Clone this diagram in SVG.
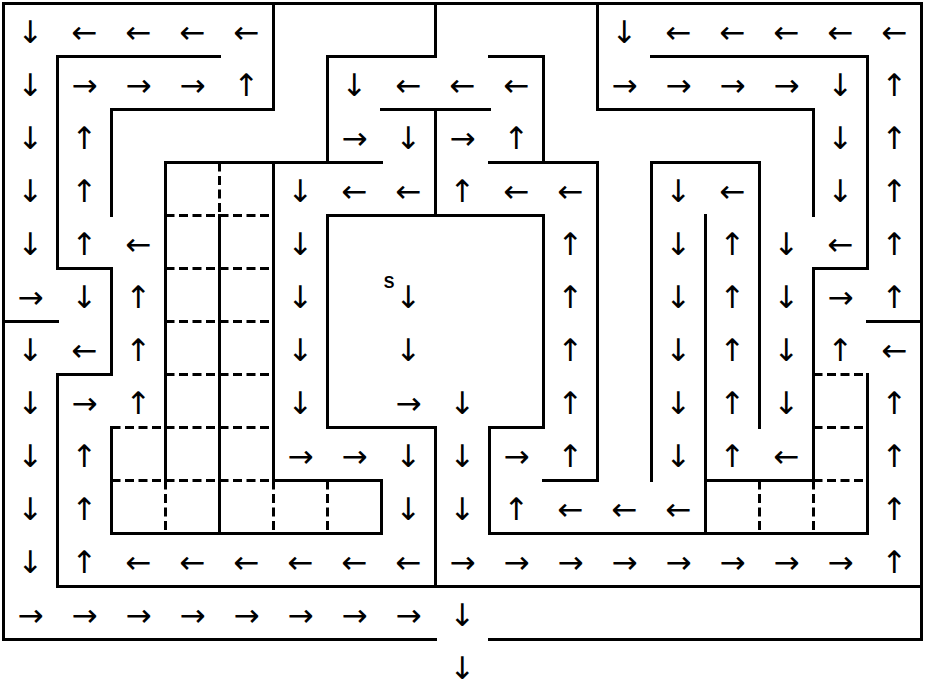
<svg xmlns="http://www.w3.org/2000/svg" width="925" height="690" viewBox="0 0 925 690">
<style>
.w{fill:none;stroke:#000;stroke-width:3;stroke-linecap:square;stroke-linejoin:miter}
.d{fill:none;stroke:#000;stroke-width:3;stroke-dasharray:9 4.5}
.a{font-family:"DejaVu Sans",sans-serif;font-size:31px;text-anchor:middle;dominant-baseline:central;fill:#000}
.s{font-family:"Liberation Sans",sans-serif;font-size:16px;font-weight:bold;text-anchor:middle;fill:#000}
</style>
<rect width="925" height="690" fill="#fff"/>
<g id="walls">
<path class="w" d="M435.5,639.5H3.5V3.5H921.5V639.5H489.5"/>
<path class="w" d="M219.5,56.5H57.5V268.5H111.5V374.5H57.5V586.5H921.5"/>
<path class="w" d="M273.5,3.5V109.5H111.5V215.5"/>
<path class="w" d="M3.5,321.5H57.5"/>
<path class="w" d="M165.5,480.5V162.5H381.5"/>
<path class="w" d="M219.5,215.5V533.5"/>
<path class="w" d="M273.5,162.5V480.5H381.5V533.5H111.5V427.5"/>
<path class="w" d="M435.5,3.5V56.5H327.5V162.5"/>
<path class="w" d="M381.5,109.5H489.5M435.5,109.5V215.5"/>
<path class="w" d="M489.5,56.5H543.5V162.5"/>
<path class="w" d="M489.5,162.5H597.5V480.5H543.5"/>
<path class="w" d="M597.5,3.5V109.5H813.5V215.5"/>
<path class="w" d="M651.5,56.5H867.5V268.5H813.5V480.5H705.5"/>
<path class="w" d="M705.5,215.5V533.5"/>
<path class="w" d="M435.5,586.5V427.5H327.5V215.5H543.5V427.5H489.5V533.5H867.5V374.5"/>
<path class="w" d="M651.5,480.5V162.5H759.5V427.5"/>
<path class="w" d="M867.5,321.5H921.5"/>
</g>
<g id="dashed">
<path class="d" d="M219.5,162.5V215.5M165.5,215.5H273.5M165.5,268.5H273.5M165.5,321.5H273.5M165.5,374.5H273.5M111.5,427.5H273.5M111.5,480.5H273.5M165.5,480.5V533.5M273.5,480.5V533.5M327.5,480.5V533.5"/>
<path class="d" d="M759.5,480.5V533.5M813.5,480.5V533.5M813.5,480.5H867.5M813.5,374.5H867.5M813.5,427.5H867.5"/>
</g>
<g id="arrows">
<text class="a" x="30.5" y="31.5">↓</text><text class="a" x="84.5" y="31.5">←</text><text class="a" x="138.5" y="31.5">←</text><text class="a" x="192.5" y="31.5">←</text><text class="a" x="246.5" y="31.5">←</text>
<text class="a" x="624.5" y="31.5">↓</text><text class="a" x="678.5" y="31.5">←</text><text class="a" x="732.5" y="31.5">←</text><text class="a" x="786.5" y="31.5">←</text><text class="a" x="840.5" y="31.5">←</text><text class="a" x="894.5" y="31.5">←</text>

<text class="a" x="30.5" y="84.5">↓</text><text class="a" x="84.5" y="84.5">→</text><text class="a" x="138.5" y="84.5">→</text><text class="a" x="192.5" y="84.5">→</text><text class="a" x="246.5" y="84.5">↑</text>
<text class="a" x="354.5" y="84.5">↓</text><text class="a" x="408.5" y="84.5">←</text><text class="a" x="462.5" y="84.5">←</text><text class="a" x="516.5" y="84.5">←</text>
<text class="a" x="624.5" y="84.5">→</text><text class="a" x="678.5" y="84.5">→</text><text class="a" x="732.5" y="84.5">→</text><text class="a" x="786.5" y="84.5">→</text><text class="a" x="840.5" y="84.5">↓</text><text class="a" x="894.5" y="84.5">↑</text>

<text class="a" x="30.5" y="137.5">↓</text><text class="a" x="84.5" y="137.5">↑</text>
<text class="a" x="354.5" y="137.5">→</text><text class="a" x="408.5" y="137.5">↓</text><text class="a" x="462.5" y="137.5">→</text><text class="a" x="516.5" y="137.5">↑</text>
<text class="a" x="840.5" y="137.5">↓</text><text class="a" x="894.5" y="137.5">↑</text>

<text class="a" x="30.5" y="190.5">↓</text><text class="a" x="84.5" y="190.5">↑</text>
<text class="a" x="300.5" y="190.5">↓</text><text class="a" x="354.5" y="190.5">←</text><text class="a" x="408.5" y="190.5">←</text><text class="a" x="462.5" y="190.5">↑</text><text class="a" x="516.5" y="190.5">←</text><text class="a" x="570.5" y="190.5">←</text>
<text class="a" x="678.5" y="190.5">↓</text><text class="a" x="732.5" y="190.5">←</text><text class="a" x="840.5" y="190.5">↓</text><text class="a" x="894.5" y="190.5">↑</text>

<text class="a" x="30.5" y="243.5">↓</text><text class="a" x="84.5" y="243.5">↑</text><text class="a" x="138.5" y="243.5">←</text>
<text class="a" x="300.5" y="243.5">↓</text><text class="a" x="570.5" y="243.5">↑</text>
<text class="a" x="678.5" y="243.5">↓</text><text class="a" x="732.5" y="243.5">↑</text><text class="a" x="786.5" y="243.5">↓</text><text class="a" x="840.5" y="243.5">←</text><text class="a" x="894.5" y="243.5">↑</text>

<text class="a" x="30.5" y="296.5">→</text><text class="a" x="84.5" y="296.5">↓</text><text class="a" x="138.5" y="296.5">↑</text>
<text class="a" x="300.5" y="296.5">↓</text><text class="a" x="408.5" y="296.5">↓</text><text class="a" x="570.5" y="296.5">↑</text>
<text class="a" x="678.5" y="296.5">↓</text><text class="a" x="732.5" y="296.5">↑</text><text class="a" x="786.5" y="296.5">↓</text><text class="a" x="840.5" y="296.5">→</text><text class="a" x="894.5" y="296.5">↑</text>

<text class="a" x="30.5" y="349.5">↓</text><text class="a" x="84.5" y="349.5">←</text><text class="a" x="138.5" y="349.5">↑</text>
<text class="a" x="300.5" y="349.5">↓</text><text class="a" x="408.5" y="349.5">↓</text><text class="a" x="570.5" y="349.5">↑</text>
<text class="a" x="678.5" y="349.5">↓</text><text class="a" x="732.5" y="349.5">↑</text><text class="a" x="786.5" y="349.5">↓</text><text class="a" x="840.5" y="349.5">↑</text><text class="a" x="894.5" y="349.5">←</text>

<text class="a" x="30.5" y="402.5">↓</text><text class="a" x="84.5" y="402.5">→</text><text class="a" x="138.5" y="402.5">↑</text>
<text class="a" x="300.5" y="402.5">↓</text><text class="a" x="408.5" y="402.5">→</text><text class="a" x="462.5" y="402.5">↓</text><text class="a" x="570.5" y="402.5">↑</text>
<text class="a" x="678.5" y="402.5">↓</text><text class="a" x="732.5" y="402.5">↑</text><text class="a" x="786.5" y="402.5">↓</text><text class="a" x="894.5" y="402.5">↑</text>

<text class="a" x="30.5" y="455.5">↓</text><text class="a" x="84.5" y="455.5">↑</text>
<text class="a" x="300.5" y="455.5">→</text><text class="a" x="354.5" y="455.5">→</text><text class="a" x="408.5" y="455.5">↓</text><text class="a" x="462.5" y="455.5">↓</text><text class="a" x="516.5" y="455.5">→</text><text class="a" x="570.5" y="455.5">↑</text>
<text class="a" x="678.5" y="455.5">↓</text><text class="a" x="732.5" y="455.5">↑</text><text class="a" x="786.5" y="455.5">←</text><text class="a" x="894.5" y="455.5">↑</text>

<text class="a" x="30.5" y="508.5">↓</text><text class="a" x="84.5" y="508.5">↑</text>
<text class="a" x="408.5" y="508.5">↓</text><text class="a" x="462.5" y="508.5">↓</text><text class="a" x="516.5" y="508.5">↑</text><text class="a" x="570.5" y="508.5">←</text><text class="a" x="624.5" y="508.5">←</text><text class="a" x="678.5" y="508.5">←</text>
<text class="a" x="894.5" y="508.5">↑</text>

<text class="a" x="30.5" y="561.5">↓</text><text class="a" x="84.5" y="561.5">↑</text><text class="a" x="138.5" y="561.5">←</text><text class="a" x="192.5" y="561.5">←</text><text class="a" x="246.5" y="561.5">←</text><text class="a" x="300.5" y="561.5">←</text><text class="a" x="354.5" y="561.5">←</text><text class="a" x="408.5" y="561.5">←</text>
<text class="a" x="462.5" y="561.5">→</text><text class="a" x="516.5" y="561.5">→</text><text class="a" x="570.5" y="561.5">→</text><text class="a" x="624.5" y="561.5">→</text><text class="a" x="678.5" y="561.5">→</text><text class="a" x="732.5" y="561.5">→</text><text class="a" x="786.5" y="561.5">→</text><text class="a" x="840.5" y="561.5">→</text><text class="a" x="894.5" y="561.5">↑</text>

<text class="a" x="30.5" y="614.5">→</text><text class="a" x="84.5" y="614.5">→</text><text class="a" x="138.5" y="614.5">→</text><text class="a" x="192.5" y="614.5">→</text><text class="a" x="246.5" y="614.5">→</text><text class="a" x="300.5" y="614.5">→</text><text class="a" x="354.5" y="614.5">→</text><text class="a" x="408.5" y="614.5">→</text><text class="a" x="462.5" y="614.5">↓</text>

<text class="a" x="462.5" y="667.5">↓</text>
</g>
<text class="s" x="389" y="288">S</text>
</svg>
